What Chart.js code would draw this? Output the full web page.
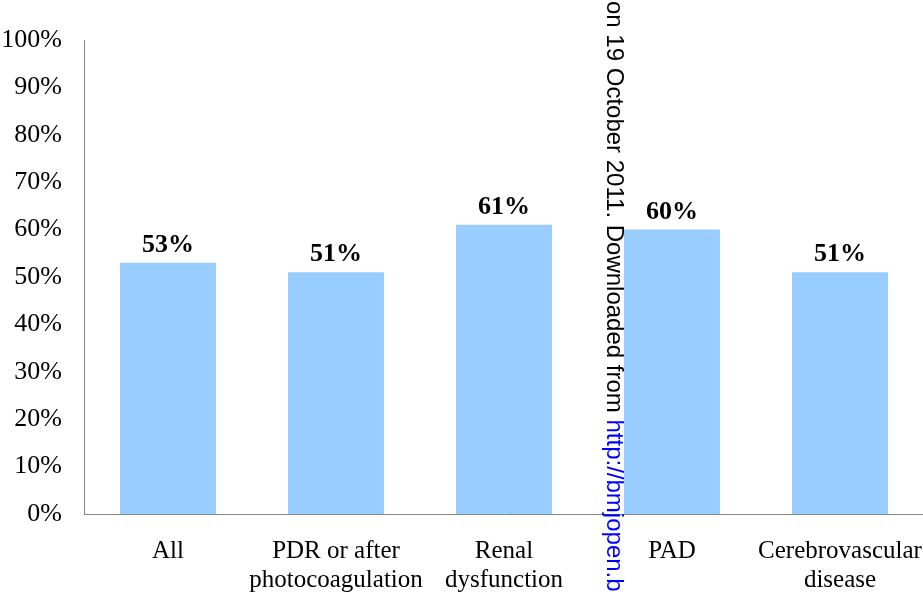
<!DOCTYPE html>
<html>
<head>
<meta charset="utf-8">
<script src="https://cdn.jsdelivr.net/npm/chart.js@4/dist/chart.umd.min.js"></script>
<style>
  html, body { margin: 0; padding: 0; background: #ffffff; overflow: hidden; }
  #wrap { width: 923px; height: 592px; overflow: hidden; }
  #c { display: block; }
</style>
</head>
<body>
<div id="wrap"><canvas id="c" width="924" height="592"></canvas></div>
<script>
// Share of patients per complication group (%)
const categories = [
  'All',
  ['PDR or after', 'photocoagulation'],
  ['Renal', 'dysfunction'],
  'PAD',
  ['Cerebrovascular', 'disease']
];
const shares = [53, 51, 61, 60, 51];
const yTicks = [0, 10, 20, 30, 40, 50, 60, 70, 80, 90, 100];

const serif = "'Liberation Serif', 'Times New Roman', serif";
const axisGrey = '#868686';

// Bold percentage above each bar
const valueLabels = {
  id: 'valueLabels',
  afterDatasetsDraw(chart) {
    const ctx = chart.ctx;
    const meta = chart.getDatasetMeta(0);
    ctx.save();
    ctx.font = 'bold 26px ' + serif;
    ctx.fillStyle = '#000000';
    ctx.textAlign = 'center';
    ctx.textBaseline = 'alphabetic';
    meta.data.forEach((bar, i) => {
      ctx.fillText(chart.data.datasets[0].data[i] + '%', bar.x, bar.y - 11);
    });
    ctx.restore();
  }
};

// Vertical download stamp running down the page
const stamp = {
  id: 'stamp',
  afterDraw(chart) {
    const ctx = chart.ctx;
    const lead = 'on 19 October 2011. Downloaded from ';
    const link = 'http://bmjopen.bmj.com/';
    ctx.save();
    ctx.translate(607, 1);
    ctx.rotate(Math.PI / 2);
    ctx.font = "24px 'Liberation Sans', Arial, sans-serif";
    ctx.textAlign = 'left';
    ctx.textBaseline = 'alphabetic';
    ctx.fillStyle = '#000000';
    ctx.fillText(lead, 0, 0);
    const w = ctx.measureText(lead).width;
    ctx.fillStyle = '#0000ff';
    ctx.fillText(link, w, 0);
    ctx.restore();
  }
};

new Chart(document.getElementById('c'), {
  type: 'bar',
  data: {
    labels: categories,
    datasets: [{
      data: shares,
      backgroundColor: '#99ccff',
      borderWidth: 0,
      barPercentage: 0.571,
      categoryPercentage: 1.0
    }]
  },
  options: {
    responsive: false,
    animation: false,
    layout: { padding: { top: 40, right: 0, left: 0, bottom: 0 } },
    plugins: {
      legend: { display: false },
      tooltip: { enabled: false },
      title: { display: false }
    },
    scales: {
      x: {
        grid: { display: false, drawTicks: false },
        border: { display: true, color: axisGrey, width: 1 },
        ticks: {
          color: '#000000',
          font: { family: serif, size: 25, lineHeight: 1.15 },
          padding: 23,
          maxRotation: 0,
          autoSkip: false
        },
        afterFit(scale) {
          scale.height = 78;
          scale.paddingLeft = 0;
          scale.paddingRight = 0;
        }
      },
      y: {
        min: 0,
        max: 100,
        afterBuildTicks(scale) {
          scale.ticks = yTicks.map(v => ({ value: v }));
        },
        grid: { display: false, drawTicks: false },
        border: { display: true, color: axisGrey, width: 1 },
        ticks: {
          color: '#000000',
          font: { family: serif, size: 26 },
          padding: 22,
          callback: v => v + '%'
        },
        afterFit(scale) { scale.width = 84; }
      }
    }
  },
  plugins: [valueLabels, stamp]
});
</script>
</body>
</html>
